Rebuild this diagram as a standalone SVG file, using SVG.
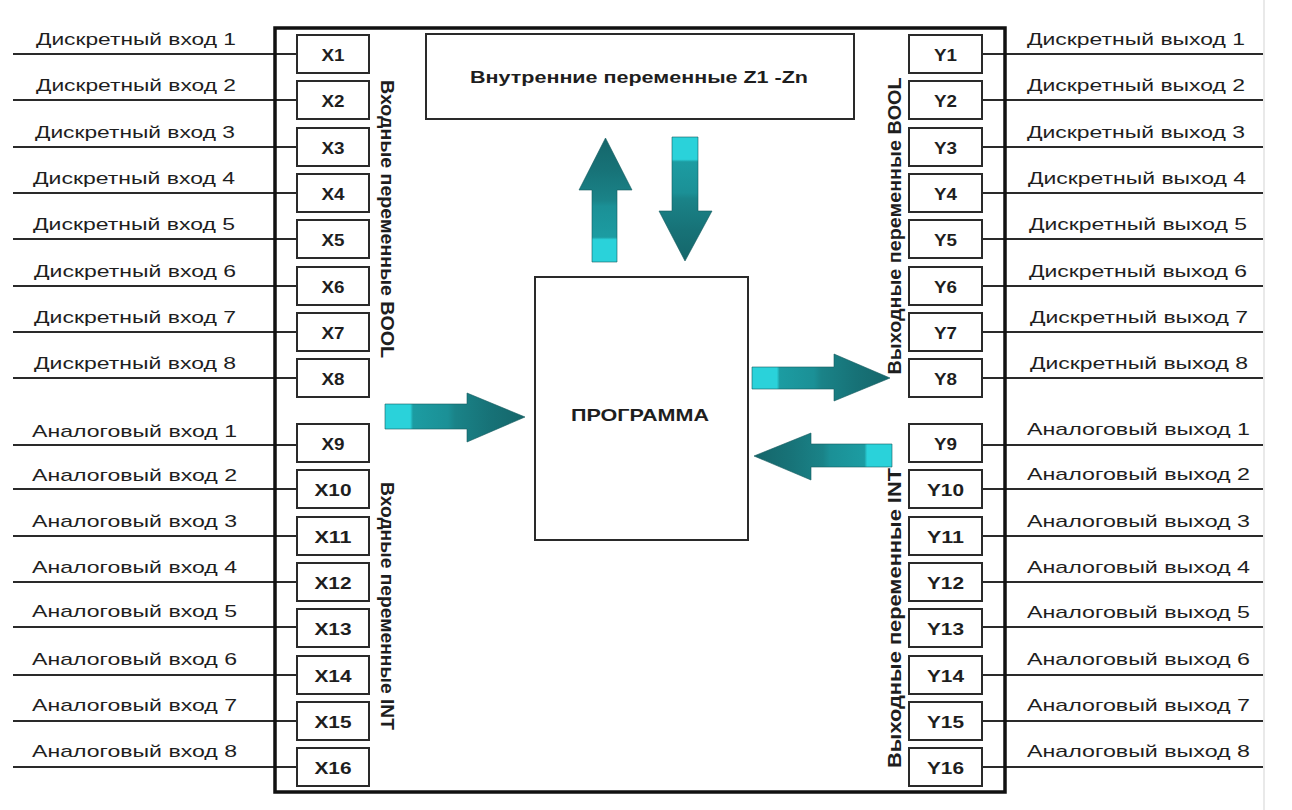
<svg xmlns="http://www.w3.org/2000/svg" width="1292" height="810" viewBox="0 0 1292 810">
<style>
text{font-family:"Liberation Sans",Arial,sans-serif;fill:#1e1e1e}
.lbl{font-size:17px}
.port{font-size:16px;font-weight:bold;text-anchor:middle}
.box{fill:#fff;stroke:#2a2a2a;stroke-width:2}
.wire{stroke:#2a2a2a;stroke-width:2;fill:none}
.vt{font-size:19px;font-weight:bold;text-anchor:middle;dominant-baseline:central}
.arrow{stroke:#145a5e;stroke-width:0.6}
</style>
<defs>
<linearGradient id="gR" x1="0" y1="0" x2="1" y2="0">
<stop offset="0" stop-color="#2ad2da"/><stop offset="0.18" stop-color="#2ad2da"/>
<stop offset="0.2" stop-color="#1c9ca2"/><stop offset="0.45" stop-color="#1b9096"/>
<stop offset="0.5" stop-color="#1a8388"/><stop offset="0.75" stop-color="#177277"/>
<stop offset="1" stop-color="#15666a"/>
</linearGradient>
<linearGradient id="gL" x1="1" y1="0" x2="0" y2="0">
<stop offset="0" stop-color="#2ad2da"/><stop offset="0.18" stop-color="#2ad2da"/>
<stop offset="0.2" stop-color="#1c9ca2"/><stop offset="0.45" stop-color="#1b9096"/>
<stop offset="0.5" stop-color="#1a8388"/><stop offset="0.75" stop-color="#177277"/>
<stop offset="1" stop-color="#15666a"/>
</linearGradient>
<linearGradient id="gU" x1="0" y1="1" x2="0" y2="0">
<stop offset="0" stop-color="#2ad2da"/><stop offset="0.18" stop-color="#2ad2da"/>
<stop offset="0.2" stop-color="#1c9ca2"/><stop offset="0.45" stop-color="#1b9096"/>
<stop offset="0.5" stop-color="#1a8388"/><stop offset="0.75" stop-color="#177277"/>
<stop offset="1" stop-color="#15666a"/>
</linearGradient>
<linearGradient id="gD" x1="0" y1="0" x2="0" y2="1">
<stop offset="0" stop-color="#2ad2da"/><stop offset="0.18" stop-color="#2ad2da"/>
<stop offset="0.2" stop-color="#1c9ca2"/><stop offset="0.45" stop-color="#1b9096"/>
<stop offset="0.5" stop-color="#1a8388"/><stop offset="0.75" stop-color="#177277"/>
<stop offset="1" stop-color="#15666a"/>
</linearGradient>
</defs>
<rect width="1292" height="810" fill="#fff"/>
<line x1="1264" y1="0" x2="1264" y2="810" stroke="#e2e2e2" stroke-width="1.5"/>

<g id="connectors">
<g class="wire">
<line x1="13" y1="54" x2="297" y2="54"/><line x1="13" y1="100" x2="297" y2="100"/>
<line x1="13" y1="147" x2="297" y2="147"/><line x1="13" y1="193" x2="297" y2="193"/>
<line x1="13" y1="239" x2="297" y2="239"/><line x1="13" y1="286" x2="297" y2="286"/>
<line x1="13" y1="332" x2="297" y2="332"/><line x1="13" y1="378" x2="297" y2="378"/>
<line x1="13" y1="445" x2="297" y2="445"/><line x1="13" y1="489" x2="297" y2="489"/>
<line x1="13" y1="536" x2="297" y2="536"/><line x1="13" y1="582" x2="297" y2="582"/>
<line x1="13" y1="627" x2="297" y2="627"/><line x1="13" y1="675" x2="297" y2="675"/>
<line x1="13" y1="721" x2="297" y2="721"/><line x1="13" y1="767" x2="297" y2="767"/>
<line x1="982" y1="54" x2="1263" y2="54"/><line x1="982" y1="100" x2="1263" y2="100"/>
<line x1="982" y1="147" x2="1263" y2="147"/><line x1="982" y1="193" x2="1263" y2="193"/>
<line x1="982" y1="239" x2="1263" y2="239"/><line x1="982" y1="286" x2="1263" y2="286"/>
<line x1="982" y1="332" x2="1263" y2="332"/><line x1="982" y1="378" x2="1263" y2="378"/>
<line x1="982" y1="445" x2="1263" y2="445"/><line x1="982" y1="489" x2="1263" y2="489"/>
<line x1="982" y1="536" x2="1263" y2="536"/><line x1="982" y1="582" x2="1263" y2="582"/>
<line x1="982" y1="627" x2="1263" y2="627"/><line x1="982" y1="675" x2="1263" y2="675"/>
<line x1="982" y1="721" x2="1263" y2="721"/><line x1="982" y1="767" x2="1263" y2="767"/>
</g>
<polygon class="arrow" fill="url(#gU)" points="592,262 592,190 579,190 605.5,138 632,190 617,190 617,262"/>
<polygon class="arrow" fill="url(#gD)" points="672,137 698,137 698,211 712,211 685,261 659,211 672,211"/>
<polygon class="arrow" fill="url(#gR)" points="385,404 467,404 467,393 525,417 467,442 467,429 385,429"/>
<polygon class="arrow" fill="url(#gR)" points="752,367 834,367 834,354 890,378 834,401 834,389 752,389"/>
<polygon class="arrow" fill="url(#gL)" points="892,444 811,444 811,433 754,456 811,480 811,467 892,467"/>
</g>

<g id="controller">
<rect x="275" y="28" width="730" height="764" fill="none" stroke="#111" stroke-width="3.5"/>
</g>

<g id="internal-vars">
<rect class="box" x="426" y="34" width="428" height="85" stroke-width="2.5"/>
<text x="470" y="83" font-size="17" font-weight="bold" textLength="338" lengthAdjust="spacingAndGlyphs">Внутренние переменные Z1 -Zn</text>
</g>

<g id="program">
<rect class="box" x="535" y="277" width="213" height="263" stroke-width="3"/>
<text x="571" y="421" font-size="17" font-weight="bold" textLength="138" lengthAdjust="spacingAndGlyphs">ПРОГРАММА</text>
</g>

<g id="input-labels">
<text class="vt" transform="translate(387,219) rotate(90)" textLength="278" lengthAdjust="spacingAndGlyphs">Входные переменные BOOL</text>
<text class="vt" transform="translate(387,606) rotate(90)" textLength="248" lengthAdjust="spacingAndGlyphs">Входные переменные INT</text>
</g>
<g id="output-labels">
<text class="vt" transform="translate(894,226) rotate(-90)" textLength="297" lengthAdjust="spacingAndGlyphs">Выходные переменные BOOL</text>
<text class="vt" transform="translate(894,618) rotate(-90)" textLength="300" lengthAdjust="spacingAndGlyphs">Выходные переменные INT</text>
</g>

<g id="inputs">
<g id="x1"><rect class="box" x="297" y="35" width="72" height="38"/><text class="port" x="333" y="61" textLength="23" lengthAdjust="spacingAndGlyphs">X1</text><text class="lbl" x="36" y="45" textLength="200" lengthAdjust="spacingAndGlyphs">Дискретный вход 1</text></g>
<g id="x2"><rect class="box" x="297" y="81" width="72" height="38"/><text class="port" x="333" y="107" textLength="23" lengthAdjust="spacingAndGlyphs">X2</text><text class="lbl" x="36" y="91" textLength="200" lengthAdjust="spacingAndGlyphs">Дискретный вход 2</text></g>
<g id="x3"><rect class="box" x="297" y="128" width="72" height="38"/><text class="port" x="333" y="154" textLength="23" lengthAdjust="spacingAndGlyphs">X3</text><text class="lbl" x="35" y="138" textLength="200" lengthAdjust="spacingAndGlyphs">Дискретный вход 3</text></g>
<g id="x4"><rect class="box" x="297" y="174" width="72" height="38"/><text class="port" x="333" y="200" textLength="23" lengthAdjust="spacingAndGlyphs">X4</text><text class="lbl" x="33" y="184" textLength="202" lengthAdjust="spacingAndGlyphs">Дискретный вход 4</text></g>
<g id="x5"><rect class="box" x="297" y="220" width="72" height="38"/><text class="port" x="333" y="246" textLength="23" lengthAdjust="spacingAndGlyphs">X5</text><text class="lbl" x="33" y="230" textLength="202" lengthAdjust="spacingAndGlyphs">Дискретный вход 5</text></g>
<g id="x6"><rect class="box" x="297" y="267" width="72" height="38"/><text class="port" x="333" y="293" textLength="23" lengthAdjust="spacingAndGlyphs">X6</text><text class="lbl" x="34" y="277" textLength="202" lengthAdjust="spacingAndGlyphs">Дискретный вход 6</text></g>
<g id="x7"><rect class="box" x="297" y="313" width="72" height="38"/><text class="port" x="333" y="339" textLength="23" lengthAdjust="spacingAndGlyphs">X7</text><text class="lbl" x="34" y="323" textLength="202" lengthAdjust="spacingAndGlyphs">Дискретный вход 7</text></g>
<g id="x8"><rect class="box" x="297" y="359" width="72" height="38"/><text class="port" x="333" y="385" textLength="23" lengthAdjust="spacingAndGlyphs">X8</text><text class="lbl" x="34" y="369" textLength="202" lengthAdjust="spacingAndGlyphs">Дискретный вход 8</text></g>
<g id="x9"><rect class="box" x="297" y="424" width="72" height="38"/><text class="port" x="333" y="450" textLength="23" lengthAdjust="spacingAndGlyphs">X9</text><text class="lbl" x="32" y="437" textLength="205" lengthAdjust="spacingAndGlyphs">Аналоговый вход 1</text></g>
<g id="x10"><rect class="box" x="297" y="470" width="72" height="38"/><text class="port" x="333" y="496" textLength="37" lengthAdjust="spacingAndGlyphs">X10</text><text class="lbl" x="32" y="481" textLength="205" lengthAdjust="spacingAndGlyphs">Аналоговый вход 2</text></g>
<g id="x11"><rect class="box" x="297" y="517" width="72" height="38"/><text class="port" x="333" y="543" textLength="37" lengthAdjust="spacingAndGlyphs">X11</text><text class="lbl" x="32" y="527" textLength="205" lengthAdjust="spacingAndGlyphs">Аналоговый вход 3</text></g>
<g id="x12"><rect class="box" x="297" y="563" width="72" height="38"/><text class="port" x="333" y="589" textLength="37" lengthAdjust="spacingAndGlyphs">X12</text><text class="lbl" x="32" y="573" textLength="205" lengthAdjust="spacingAndGlyphs">Аналоговый вход 4</text></g>
<g id="x13"><rect class="box" x="297" y="609" width="72" height="38"/><text class="port" x="333" y="635" textLength="37" lengthAdjust="spacingAndGlyphs">X13</text><text class="lbl" x="32" y="617" textLength="205" lengthAdjust="spacingAndGlyphs">Аналоговый вход 5</text></g>
<g id="x14"><rect class="box" x="297" y="656" width="72" height="38"/><text class="port" x="333" y="682" textLength="37" lengthAdjust="spacingAndGlyphs">X14</text><text class="lbl" x="32" y="665" textLength="205" lengthAdjust="spacingAndGlyphs">Аналоговый вход 6</text></g>
<g id="x15"><rect class="box" x="297" y="702" width="72" height="38"/><text class="port" x="333" y="728" textLength="37" lengthAdjust="spacingAndGlyphs">X15</text><text class="lbl" x="32" y="711" textLength="205" lengthAdjust="spacingAndGlyphs">Аналоговый вход 7</text></g>
<g id="x16"><rect class="box" x="297" y="748" width="72" height="38"/><text class="port" x="333" y="774" textLength="37" lengthAdjust="spacingAndGlyphs">X16</text><text class="lbl" x="32" y="757" textLength="205" lengthAdjust="spacingAndGlyphs">Аналоговый вход 8</text></g>
</g>

<g id="outputs">
<g id="y1"><rect class="box" x="909" y="35" width="73" height="38"/><text class="port" x="945.5" y="61" textLength="23" lengthAdjust="spacingAndGlyphs">Y1</text><text class="lbl" x="1027" y="45" textLength="218" lengthAdjust="spacingAndGlyphs">Дискретный выход 1</text></g>
<g id="y2"><rect class="box" x="909" y="81" width="73" height="38"/><text class="port" x="945.5" y="107" textLength="23" lengthAdjust="spacingAndGlyphs">Y2</text><text class="lbl" x="1027" y="91" textLength="218" lengthAdjust="spacingAndGlyphs">Дискретный выход 2</text></g>
<g id="y3"><rect class="box" x="909" y="128" width="73" height="38"/><text class="port" x="945.5" y="154" textLength="23" lengthAdjust="spacingAndGlyphs">Y3</text><text class="lbl" x="1027" y="138" textLength="218" lengthAdjust="spacingAndGlyphs">Дискретный выход 3</text></g>
<g id="y4"><rect class="box" x="909" y="174" width="73" height="38"/><text class="port" x="945.5" y="200" textLength="23" lengthAdjust="spacingAndGlyphs">Y4</text><text class="lbl" x="1028" y="184" textLength="218" lengthAdjust="spacingAndGlyphs">Дискретный выход 4</text></g>
<g id="y5"><rect class="box" x="909" y="220" width="73" height="38"/><text class="port" x="945.5" y="246" textLength="23" lengthAdjust="spacingAndGlyphs">Y5</text><text class="lbl" x="1029" y="230" textLength="218" lengthAdjust="spacingAndGlyphs">Дискретный выход 5</text></g>
<g id="y6"><rect class="box" x="909" y="267" width="73" height="38"/><text class="port" x="945.5" y="293" textLength="23" lengthAdjust="spacingAndGlyphs">Y6</text><text class="lbl" x="1029" y="277" textLength="218" lengthAdjust="spacingAndGlyphs">Дискретный выход 6</text></g>
<g id="y7"><rect class="box" x="909" y="313" width="73" height="38"/><text class="port" x="945.5" y="339" textLength="23" lengthAdjust="spacingAndGlyphs">Y7</text><text class="lbl" x="1030" y="323" textLength="218" lengthAdjust="spacingAndGlyphs">Дискретный выход 7</text></g>
<g id="y8"><rect class="box" x="909" y="359" width="73" height="38"/><text class="port" x="945.5" y="385" textLength="23" lengthAdjust="spacingAndGlyphs">Y8</text><text class="lbl" x="1030" y="369" textLength="218" lengthAdjust="spacingAndGlyphs">Дискретный выход 8</text></g>
<g id="y9"><rect class="box" x="909" y="424" width="73" height="38"/><text class="port" x="945.5" y="450" textLength="23" lengthAdjust="spacingAndGlyphs">Y9</text><text class="lbl" x="1027" y="435" textLength="223" lengthAdjust="spacingAndGlyphs">Аналоговый выход 1</text></g>
<g id="y10"><rect class="box" x="909" y="470" width="73" height="38"/><text class="port" x="945.5" y="496" textLength="37" lengthAdjust="spacingAndGlyphs">Y10</text><text class="lbl" x="1027" y="480" textLength="223" lengthAdjust="spacingAndGlyphs">Аналоговый выход 2</text></g>
<g id="y11"><rect class="box" x="909" y="517" width="73" height="38"/><text class="port" x="945.5" y="543" textLength="37" lengthAdjust="spacingAndGlyphs">Y11</text><text class="lbl" x="1027" y="527" textLength="223" lengthAdjust="spacingAndGlyphs">Аналоговый выход 3</text></g>
<g id="y12"><rect class="box" x="909" y="563" width="73" height="38"/><text class="port" x="945.5" y="589" textLength="37" lengthAdjust="spacingAndGlyphs">Y12</text><text class="lbl" x="1027" y="573" textLength="223" lengthAdjust="spacingAndGlyphs">Аналоговый выход 4</text></g>
<g id="y13"><rect class="box" x="909" y="609" width="73" height="38"/><text class="port" x="945.5" y="635" textLength="37" lengthAdjust="spacingAndGlyphs">Y13</text><text class="lbl" x="1027" y="618" textLength="223" lengthAdjust="spacingAndGlyphs">Аналоговый выход 5</text></g>
<g id="y14"><rect class="box" x="909" y="656" width="73" height="38"/><text class="port" x="945.5" y="682" textLength="37" lengthAdjust="spacingAndGlyphs">Y14</text><text class="lbl" x="1027" y="665" textLength="223" lengthAdjust="spacingAndGlyphs">Аналоговый выход 6</text></g>
<g id="y15"><rect class="box" x="909" y="702" width="73" height="38"/><text class="port" x="945.5" y="728" textLength="37" lengthAdjust="spacingAndGlyphs">Y15</text><text class="lbl" x="1027" y="711" textLength="223" lengthAdjust="spacingAndGlyphs">Аналоговый выход 7</text></g>
<g id="y16"><rect class="box" x="909" y="748" width="73" height="38"/><text class="port" x="945.5" y="774" textLength="37" lengthAdjust="spacingAndGlyphs">Y16</text><text class="lbl" x="1027" y="757" textLength="223" lengthAdjust="spacingAndGlyphs">Аналоговый выход 8</text></g>
</g>
</svg>
